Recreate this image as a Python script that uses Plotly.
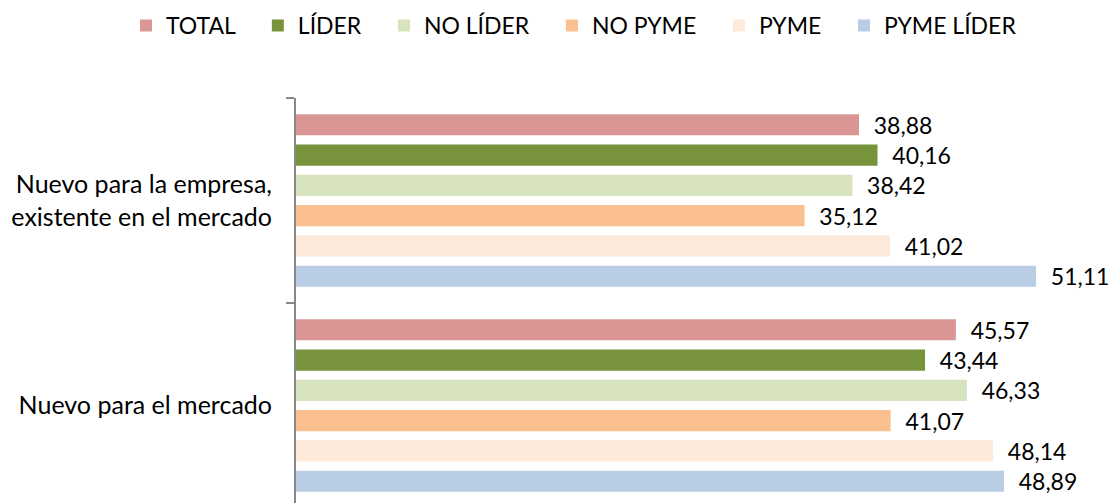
import plotly.graph_objects as go

categories = ["Nuevo para la empresa,<br>existente en el mercado", "Nuevo para el mercado"]
series_names = ["TOTAL", "LÍDER", "NO LÍDER", "NO PYME", "PYME", "PYME LÍDER"]
total = [38.88, 45.57]
lider = [40.16, 43.44]
no_lider = [38.42, 46.33]
no_pyme = [35.12, 41.07]
pyme = [41.02, 48.14]
pyme_lider = [51.11, 48.89]

series_values = [total, lider, no_lider, no_pyme, pyme, pyme_lider]
colors = ["#D99694", "#77933C", "#D7E4BD", "#FAC090", "#FDEADA", "#B9CDE5"]

FONT = "Lato"
PAD = "\u00a0" * 3  # widen gap between legend entries
Y_RANGE = [1.4756, -0.5]
AXIS_GREY = "#878787"

fig = go.Figure()
for name, vals, col in zip(series_names, series_values, colors):
    fig.add_trace(go.Bar(
        y=categories,
        x=vals,
        name=name + PAD,
        orientation="h",
        marker=dict(color=col, line=dict(width=0)),
        text=["\u00a0\u00a0" + f"{v:.2f}".replace(".", ",") for v in vals],
        textposition="outside",
        constraintext="none",
        cliponaxis=False,
        textfont=dict(family=FONT, size=23, color="#000000"),
    ))

fig.update_layout(
    width=1115,
    height=503,
    barmode="group",
    bargap=0.113,
    bargroupgap=0.3,
    plot_bgcolor="white",
    paper_bgcolor="white",
    margin=dict(l=296, r=0, t=98, b=0, autoexpand=False),
    font=dict(family=FONT, size=23, color="#000000"),
    # legend anchored left of the plot area so it may use the full page width
    legend=dict(
        orientation="h",
        x=-0.2076, xanchor="left",
        y=1.232, yanchor="top",
        font=dict(family=FONT, size=23),
        traceorder="normal",
    ),
    showlegend=True,
    xaxis=dict(range=[0, 56.56], visible=False),
    yaxis=dict(
        range=Y_RANGE,
        automargin=False,
        showline=True,
        linecolor=AXIS_GREY,
        linewidth=2,
        ticks="outside",
        tickson="boundaries",
        ticklen=8,
        tickwidth=2,
        tickcolor=AXIS_GREY,
        ticklabelstandoff=17,
        showgrid=False,
        tickfont=dict(family=FONT, size=25),
    ),
    # second (empty) axis only to draw the inner half of the boundary ticks
    yaxis2=dict(
        overlaying="y",
        anchor="x",
        side="left",
        range=Y_RANGE,
        tickvals=[-0.5, 0.5, 1.5],
        ticks="inside",
        ticklen=8,
        tickwidth=2,
        tickcolor=AXIS_GREY,
        showticklabels=False,
        showgrid=False,
        showline=False,
        zeroline=False,
    ),
)

# the default page has an 8px body margin; drop it so the figure sits at 0,0
fig.write_html(
    "out.html",
    config={"displayModeBar": False},
    post_script="document.body.style.margin='0';",
)
